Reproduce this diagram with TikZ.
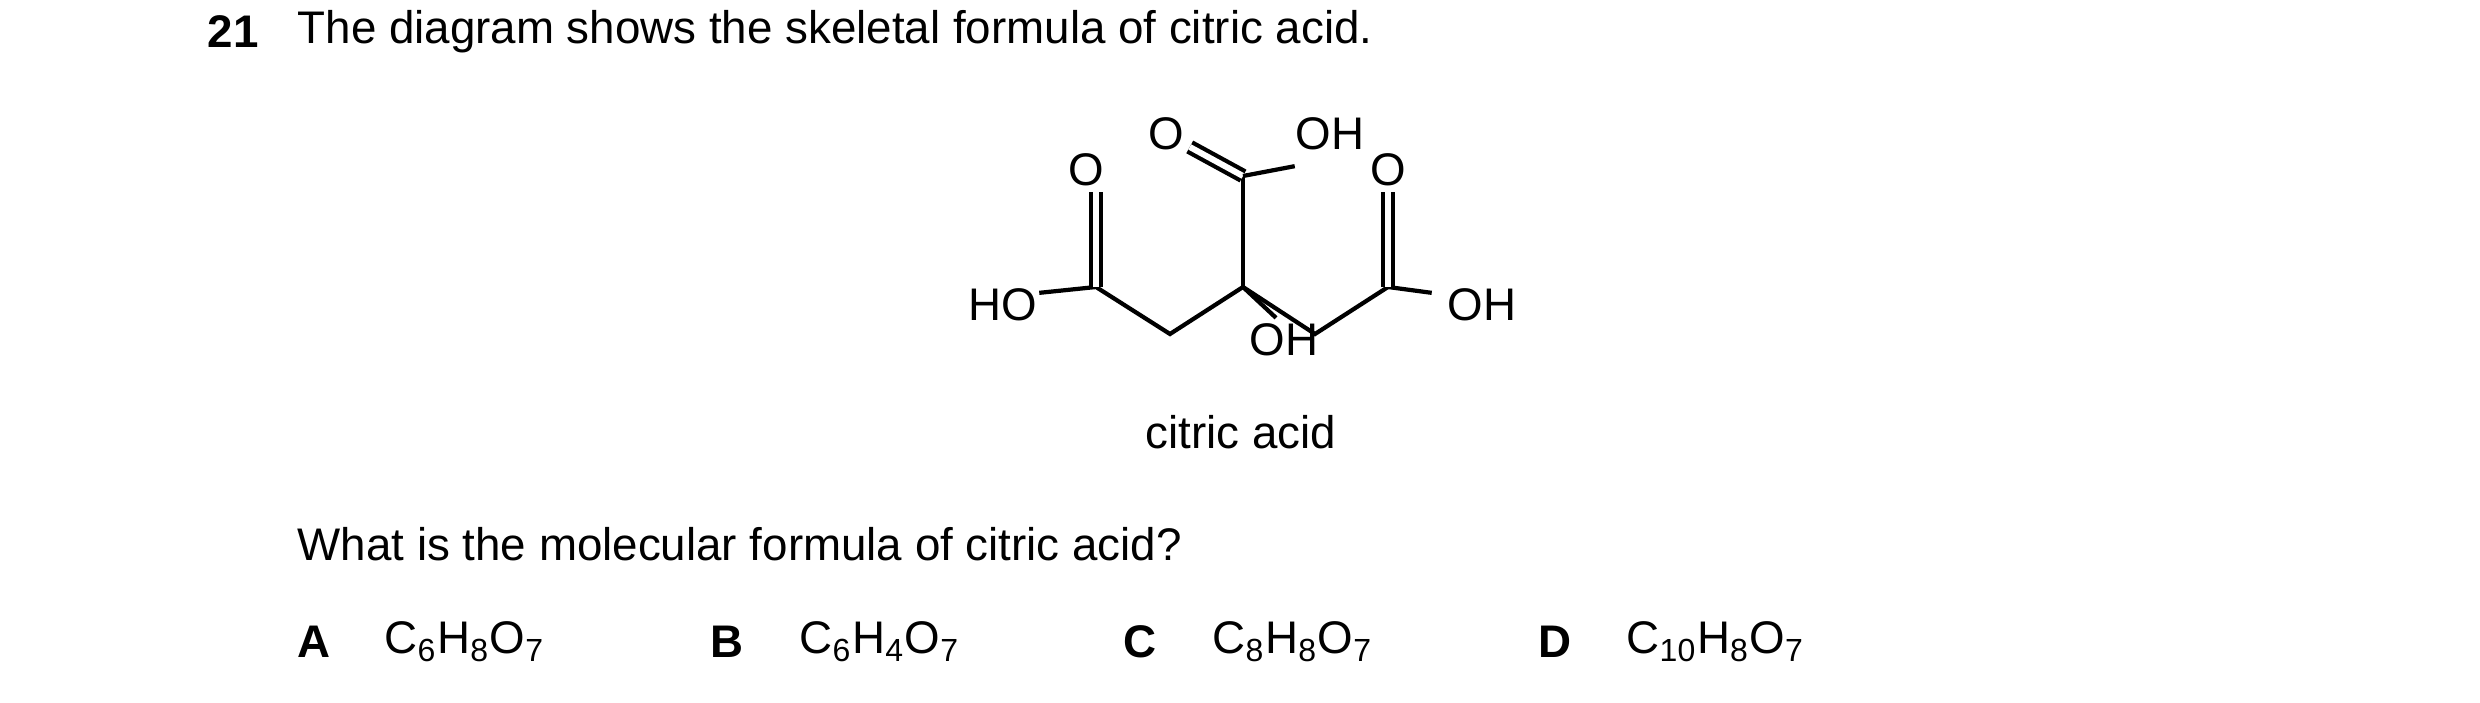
\documentclass[tikz,border=0pt]{standalone}
\usepackage{fontspec}
\setmainfont{Liberation Sans}
\usetikzlibrary{positioning}
\tikzset{
  bond/.style={line width=1.2pt},
  dbond/.style={line width=1.2pt, double, double distance=0.06cm},
  atom/.style={inner sep=1.5pt, font=\fontsize{13}{15}\selectfont},
  txt/.style={anchor=west, inner sep=0pt, font=\fontsize{13}{15}\selectfont}
}
\begin{document}
\begin{tikzpicture}[x=0.01cm, y=-0.01cm]
  \useasboundingbox (0,0) rectangle (2480,703);
  % question text
  \node[txt, font=\fontsize{13}{15}\selectfont\bfseries] (num) at (207,32) {21};
  \node[txt] (q) at (297,32) {The diagram shows the skeletal formula of citric acid.};
  % carbon skeleton
  \coordinate (c1) at (1096,287);
  \coordinate (m1) at (1170,334);
  \coordinate (c2) at (1243,287);
  \coordinate (m2) at (1315,334);
  \coordinate (c3) at (1388,287);
  \coordinate (c4) at (1243,176);
  % hetero atoms
  \node[atom] (o1) at (1086,170) {O};
  \node[atom] (o2) at (1388,170) {O};
  \node[atom] (o3) at (1166,134) {O};
  \node[atom] (oh3) at (1330,134) {OH};
  \node[atom] (ho1) at (1003,305) {HO};
  \node[atom] (oh2) at (1482,305) {OH};
  \node[atom] (oh4) at (1284,340) {OH};
  % bonds
  \draw[bond] (ho1.north east) ++(-4,10) coordinate (h1) -- (c1) -- (m1) -- (c2) -- (m2) -- (c3);
  \draw[bond] (c3) -- ([xshift=-0.1cm,yshift=-0.1cm]oh2.north west);
  \draw[bond] (c2) -- (c4);
  \draw[dbond] (c4) -- (o3);
  \draw[bond] (c4) -- ([xshift=0.05cm,yshift=-0.1cm]oh3.south west);
  \draw[bond] (c2) -- ([xshift=-0.08cm]oh4.north);
  \draw[dbond] (c1) -- (c1 |- o1.south);
  \draw[dbond] (c3) -- (o2);
  \node[txt] (cap) at (1145,432) {citric acid};
  % question and options
  \node[txt] (ask) at (297,544) {What is the molecular formula of citric acid?};
  \node[txt, font=\fontsize{13}{15}\selectfont\bfseries] (la) at (297,642) {A};
  \node[txt] (fa) at (384,642) {C\textsubscript{6}H\textsubscript{8}O\textsubscript{7}};
  \node[txt, font=\fontsize{13}{15}\selectfont\bfseries] (lb) at (710,642) {B};
  \node[txt] (fb) at (799,642) {C\textsubscript{6}H\textsubscript{4}O\textsubscript{7}};
  \node[txt, font=\fontsize{13}{15}\selectfont\bfseries] (lc) at (1123,642) {C};
  \node[txt] (fc) at (1212,642) {C\textsubscript{8}H\textsubscript{8}O\textsubscript{7}};
  \node[txt, font=\fontsize{13}{15}\selectfont\bfseries] (ld) at (1538,642) {D};
  \node[txt] (fd) at (1626,642) {C\textsubscript{10}H\textsubscript{8}O\textsubscript{7}};
\end{tikzpicture}
\end{document}
